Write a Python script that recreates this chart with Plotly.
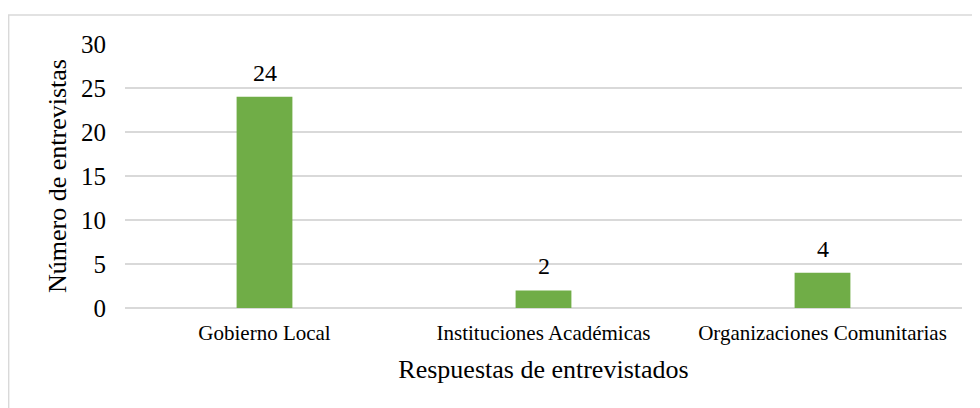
import plotly.graph_objects as go

categorias = ["Gobierno Local", "Instituciones Académicas", "Organizaciones Comunitarias"]
entrevistas = [24, 2, 4]
ticks_y = [0, 5, 10, 15, 20, 25, 30]

FONT = "Liberation Serif, Times New Roman, serif"
GRID = "#d9d9d9"

fig = go.Figure(
    go.Bar(
        x=categorias,
        y=entrevistas,
        width=0.2,
        marker=dict(color="#70ad47", line=dict(width=0)),
    )
)

# etiquetas de datos sobre cada barra
for cat, val in zip(categorias, entrevistas):
    fig.add_annotation(
        x=cat,
        y=val,
        text=str(val),
        showarrow=False,
        yanchor="bottom",
        yshift=9,
        font=dict(family=FONT, size=24, color="#000000"),
    )

fig.update_layout(
    width=972,
    height=400,
    margin=dict(l=117, r=18, t=36, b=100),
    paper_bgcolor="white",
    plot_bgcolor="white",
    showlegend=False,
    font=dict(family=FONT, color="#000000"),
)

fig.update_xaxes(
    title=dict(text="Respuestas de entrevistados", font=dict(size=26), standoff=15),
    tickfont=dict(size=21),
    showgrid=False,
    showline=False,
    ticks="",
    ticklabelstandoff=10,
)
fig.update_yaxes(
    title=dict(text="Número de entrevistas", font=dict(size=26), standoff=6),
    range=[0, 30],
    tickvals=ticks_y,
    tickfont=dict(size=25),
    showgrid=True,
    gridcolor=GRID,
    gridwidth=1.5,
    zeroline=True,
    zerolinecolor=GRID,
    zerolinewidth=1.5,
    showline=False,
    ticks="",
    ticklabelstandoff=18,
)

# borde del área del gráfico
fig.add_shape(
    type="rect",
    xref="paper",
    yref="paper",
    x0=-0.139,
    x1=1.05,
    y0=-0.43,
    y1=1.1098,
    line=dict(color=GRID, width=1.5),
    fillcolor="rgba(0,0,0,0)",
    layer="below",
)

fig.write_html("out.html")
